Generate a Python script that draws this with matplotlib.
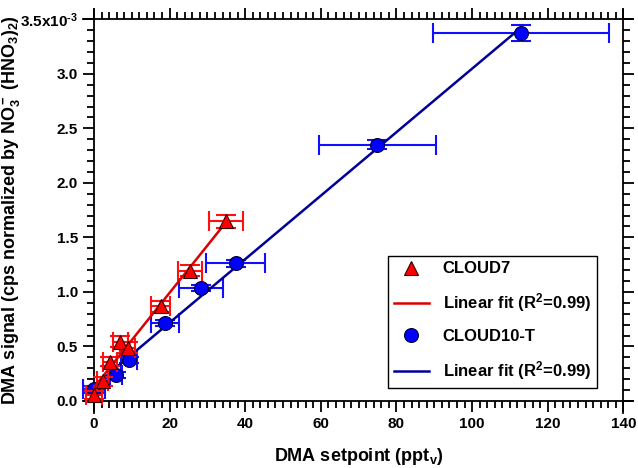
import numpy as np
import matplotlib.pyplot as plt
from matplotlib.lines import Line2D

plt.rcParams['font.family'] = ['Liberation Sans', 'DejaVu Sans']
plt.rcParams['font.weight'] = 'bold'
plt.rcParams['mathtext.fontset'] = 'custom'
plt.rcParams['mathtext.rm'] = 'Liberation Sans:bold'
plt.rcParams['mathtext.bf'] = 'Liberation Sans:bold'
plt.rcParams['mathtext.it'] = 'Liberation Sans:bold'
plt.rcParams['mathtext.default'] = 'bf'

# CLOUD7 (red triangles), y in units of 1e-3
c7_x = [0.0, 2.3, 4.2, 6.9, 8.9, 17.6, 25.4, 34.9]
c7_y = [0.055, 0.18, 0.36, 0.545, 0.49, 0.87, 1.195, 1.648]
c7_xerr = [2.0, 1.5, 1.8, 2.0, 2.0, 2.5, 3.2, 4.5]
c7_yerr = [0.04, 0.04, 0.04, 0.05, 0.05, 0.05, 0.05, 0.06]

# CLOUD10-T (blue circles)
c10_x = [0.0, 5.8, 9.3, 18.8, 28.2, 37.5, 74.9, 113.0]
c10_y = [0.107, 0.239, 0.377, 0.714, 1.036, 1.262, 2.35, 3.373]
c10_xerr = [3.0, 1.5, 2.2, 3.75, 5.8, 7.8, 15.5, 23.3]
c10_yerr = [0.03, 0.03, 0.03, 0.03, 0.03, 0.03, 0.04, 0.073]

fig = plt.figure(figsize=(6.38, 4.68), dpi=100)
ax = fig.add_axes([0.1473, 0.1432, 0.8297, 0.8156])

# blue series
ax.errorbar(c10_x, c10_y, xerr=c10_xerr, yerr=c10_yerr, fmt='none',
            ecolor='#1010ff', elinewidth=1.5, capsize=7.5, capthick=1.5,
            clip_on=False, zorder=2)
p = np.polyfit(c10_x, c10_y, 1)
fx = np.array([min(c10_x), max(c10_x)])
ax.plot(fx, np.polyval(p, fx), color='#000099', lw=1.8, zorder=3, clip_on=False)
ax.plot(c10_x, c10_y, 'o', ms=10, mfc='#0000ff', mec='#000033', mew=0.8,
        zorder=4, clip_on=False)

# red series
ax.errorbar(c7_x, c7_y, xerr=c7_xerr, yerr=c7_yerr, fmt='none',
            ecolor='#ff1010', elinewidth=1.5, capsize=7.5, capthick=1.5,
            clip_on=False, zorder=5)
p = np.polyfit(c7_x, c7_y, 1)
fx = np.array([min(c7_x), max(c7_x)])
ax.plot(fx, np.polyval(p, fx), color='#dd0000', lw=1.8, zorder=6, clip_on=False)
ax.plot(c7_x, c7_y, '^', ms=10, mfc='#ff0000', mec='#330000', mew=0.8,
        zorder=7, clip_on=False)

ax.set_xlim(0, 140)
ax.set_ylim(0, 3.5)

for s in ax.spines.values():
    s.set_linewidth(1.3)
ax.spines['bottom'].set_bounds(-2.9, 142.6)
ax.spines['top'].set_bounds(-2.9, 142.6)
ax.spines['left'].set_bounds(-0.11, 3.585)
ax.spines['right'].set_bounds(-0.11, 3.585)

ax.tick_params(which='both', direction='out', top=True, right=True,
               labelsize=11, width=1.3)
ax.tick_params(which='major', length=8)
ax.tick_params(which='minor', length=5)

xt = np.arange(0, 141, 20)
ax.set_xticks(xt)
ax.set_xticks(np.arange(0, 141, 2), minor=True)
ax.set_xticklabels(['%d' % v for v in xt], fontsize=11, fontweight='bold')
yt = np.arange(0, 3.51, 0.5)
ax.set_yticks(yt)
ax.set_yticks(np.arange(0, 3.51, 0.1), minor=True)
ylabels = ['%.1f' % v for v in yt]
ylabels[-1] = r'3.5x10$^{\text{-}3}$'
ax.set_yticklabels(ylabels, fontsize=11, fontweight='bold')

ax.set_xlabel(r'DMA setpoint (ppt$_v$)', fontsize=13, fontweight='bold')
ax.xaxis.set_label_coords(0.5, -0.118)
ax.set_ylabel(r'DMA signal (cps normalized by NO$_3^-$ (HNO$_3$)$_2$)',
              fontsize=13, fontweight='bold')
ax.yaxis.set_label_coords(-0.136, 0.5)

handles = [
    Line2D([], [], ls='none', marker='^', ms=10, mfc='#ff0000', mec='#330000', mew=0.8),
    Line2D([], [], color='#dd0000', lw=1.8),
    Line2D([], [], ls='none', marker='o', ms=10, mfc='#0000ff', mec='#000033', mew=0.8),
    Line2D([], [], color='#000099', lw=1.8),
]
labels = ['CLOUD7', r'Linear fit (R$^2$=0.99)', 'CLOUD10-T', r'Linear fit (R$^2$=0.99)']
leg = ax.legend(handles, labels, loc='upper left', bbox_to_anchor=(0.555, 0.381),
                borderaxespad=0, fancybox=False, edgecolor='black', framealpha=1,
                prop={'size': 12, 'weight': 'bold'}, handlelength=2.1,
                handletextpad=0.85, labelspacing=0.9, borderpad=0.35)
leg.get_frame().set_linewidth(1.0)

fig.savefig('out.png', dpi=100)
